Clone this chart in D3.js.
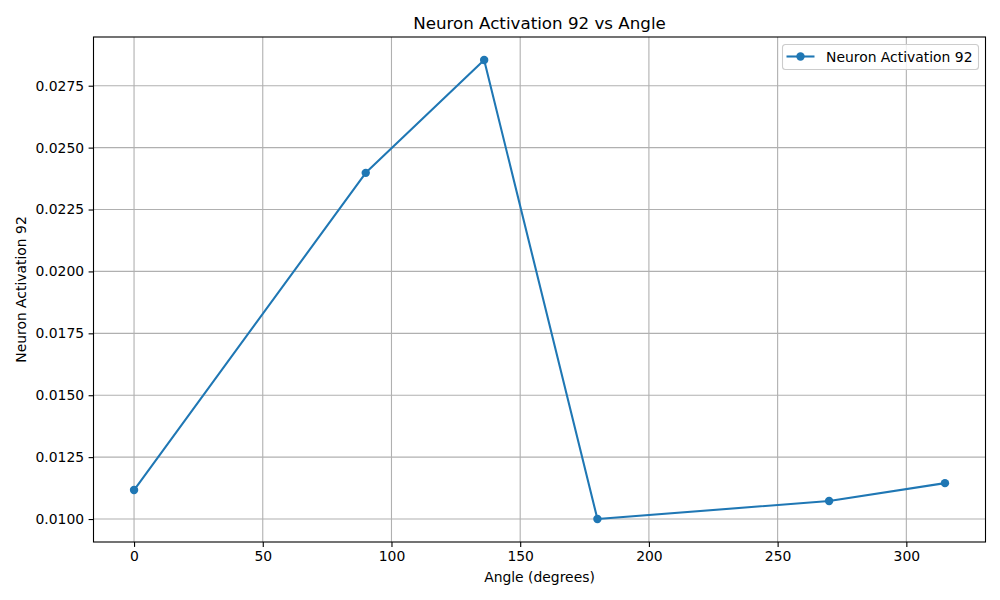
<!DOCTYPE html>
<html>
<head>
<meta charset="utf-8">
<script src="https://cdn.jsdelivr.net/npm/d3@7"></script>
<style>
  body { margin: 0; background: #fff; }
  svg { font-family: "DejaVu Sans", sans-serif; }
</style>
</head>
<body>
<svg id="chart" width="1000" height="600"></svg>
<script>
// Chart data
var angles = [0, 90, 136, 180, 270, 315];
var activations = [0.01117, 0.02398, 0.02854, 0.0100, 0.01073, 0.01145];
var xTicks = [0, 50, 100, 150, 200, 250, 300];
var yTicks = [0.0100, 0.0125, 0.0150, 0.0175, 0.0200, 0.0225, 0.0250, 0.0275];
var seriesName = "Neuron Activation 92";

var blue = "#1f77b4";
var svg = d3.select("#chart");
var plot = { left: 93.5, right: 985.5, top: 37, bottom: 542 };

// matplotlib style 5% margins
var xMin = d3.min(angles), xMax = d3.max(angles);
var xPad = (xMax - xMin) * 0.05;
var yMin = d3.min(activations), yMax = d3.max(activations);
var yPad = (yMax - yMin) * 0.05;

var x = d3.scaleLinear()
    .domain([xMin - xPad, xMax + xPad])
    .range([plot.left, plot.right]);
var y = d3.scaleLinear()
    .domain([yMin - yPad, yMax + yPad])
    .range([plot.bottom, plot.top]);

// Grid
var grid = svg.append("g").attr("class", "grid");
grid.selectAll(".vgrid").data(xTicks).enter().append("line")
    .attr("x1", function(d) { return x(d); })
    .attr("x2", function(d) { return x(d); })
    .attr("y1", plot.top).attr("y2", plot.bottom)
    .style("stroke", "#b0b0b0").style("stroke-width", 1.1);
grid.selectAll(".hgrid").data(yTicks).enter().append("line")
    .attr("y1", function(d) { return y(d); })
    .attr("y2", function(d) { return y(d); })
    .attr("x1", plot.left).attr("x2", plot.right)
    .style("stroke", "#b0b0b0").style("stroke-width", 1.1);

// Axes
var xAxis = d3.axisBottom(x).tickValues(xTicks).tickSize(4.9).tickPadding(4.5)
    .tickFormat(d3.format("d"));
var yAxis = d3.axisLeft(y).tickValues(yTicks).tickSize(4.9).tickPadding(4.5)
    .tickFormat(d3.format(".4f"));

var gx = svg.append("g")
    .attr("transform", "translate(0," + plot.bottom + ")")
    .call(xAxis);
var gy = svg.append("g")
    .attr("transform", "translate(" + plot.left + ",0)")
    .call(yAxis);
[gx, gy].forEach(function(g) {
    g.select(".domain").remove();
    g.selectAll(".tick line").style("stroke", "#000").style("stroke-width", 1.1);
    g.selectAll(".tick text").style("font-size", "13.9px").style("fill", "#000")
        .style("font-family", "DejaVu Sans, sans-serif");
});

// Frame
svg.append("rect")
    .attr("x", plot.left).attr("y", plot.top)
    .attr("width", plot.right - plot.left)
    .attr("height", plot.bottom - plot.top)
    .style("fill", "none").style("stroke", "#000").style("stroke-width", 1.1);

// Line and markers
var points = angles.map(function(a, i) { return { angle: a, value: activations[i] }; });
var line = d3.line()
    .x(function(d) { return x(d.angle); })
    .y(function(d) { return y(d.value); });

svg.append("path")
    .datum(points)
    .attr("d", line)
    .style("fill", "none")
    .style("stroke", blue)
    .style("stroke-width", 2.08)
    .style("stroke-linejoin", "round");

svg.selectAll(".pt").data(points).enter().append("circle")
    .attr("class", "pt")
    .attr("cx", function(d) { return x(d.angle); })
    .attr("cy", function(d) { return y(d.value); })
    .attr("r", 4.2)
    .style("fill", blue);

// Title and labels
svg.append("text")
    .attr("x", (plot.left + plot.right) / 2).attr("y", 29)
    .attr("text-anchor", "middle")
    .style("font-size", "16.7px")
    .text(seriesName + " vs Angle");

svg.append("text")
    .attr("x", (plot.left + plot.right) / 2).attr("y", 582)
    .attr("text-anchor", "middle")
    .style("font-size", "13.9px")
    .text("Angle (degrees)");

svg.append("text")
    .attr("transform", "translate(26," + ((plot.top + plot.bottom) / 2) + ") rotate(-90)")
    .attr("text-anchor", "middle")
    .style("font-size", "13.9px")
    .text(seriesName);

// Legend
var legend = svg.append("g").attr("transform", "translate(782.5,44.5)");
legend.append("rect")
    .attr("width", 196).attr("height", 25).attr("rx", 3)
    .style("fill", "#fff").style("fill-opacity", 0.8)
    .style("stroke", "#cccccc").style("stroke-width", 1.1);
legend.append("line")
    .attr("x1", 4).attr("x2", 32).attr("y1", 12).attr("y2", 12)
    .style("stroke", blue).style("stroke-width", 2.08);
legend.append("circle")
    .attr("cx", 18).attr("cy", 12).attr("r", 4.2)
    .style("fill", blue);
legend.append("text")
    .attr("x", 43.5).attr("y", 17)
    .style("font-size", "13.9px")
    .text(seriesName);
</script>
</body>
</html>
